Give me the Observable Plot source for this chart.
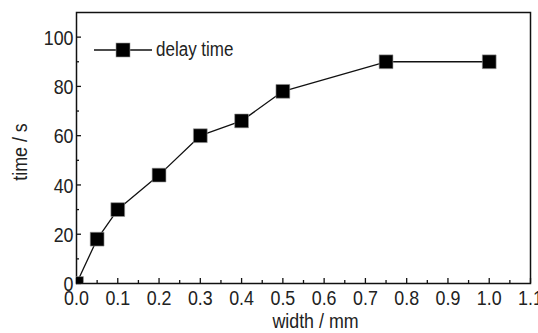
<!DOCTYPE html>
<html><head><meta charset="utf-8">
<script src="https://cdn.jsdelivr.net/npm/d3@7"></script>
<script src="https://cdn.jsdelivr.net/npm/@observablehq/plot@0.6"></script>
<style>
html,body{margin:0;padding:0;background:#fff;}
#wrap{position:relative;width:538px;height:333px;}
#legend{position:absolute;left:94px;top:38px;display:flex;align-items:center;font-family:"Liberation Sans",Arial,sans-serif;font-size:20px;color:#222;}
#legend span{display:inline-block;transform:scaleX(0.85);transform-origin:left center;white-space:nowrap;}
</style></head>
<body><div id="wrap"><div id="legend"></div></div>
<script>
const widths = [0, 0.05, 0.1, 0.2, 0.3, 0.4, 0.5, 0.75, 1.0];
const times = [0, 18, 30, 44, 60, 66, 78, 90, 90];
const xMajor = [0,0.1,0.2,0.3,0.4,0.5,0.6,0.7,0.8,0.9,1.0,1.1];
const xMinor = [0.05,0.15,0.25,0.35,0.45,0.55,0.65,0.75,0.85,0.95,1.05];
const yMajor = [0,20,40,60,80,100];
const yMinor = [10,30,50,70,90];
const seriesName = "delay time";
const xLabel = "width / mm";
const yLabel = "time / s";

const data = widths.map((w,i)=>({w, t: times[i]}));
const font = '"Liberation Sans",Arial,sans-serif';

const chart = Plot.plot({
  width: 538, height: 333,
  marginLeft: 76, marginRight: 8, marginTop: 12, marginBottom: 50,
  style: {fontFamily: font, fontSize: "22px", color: "#222", background: "#fff"},
  x: {domain: [0, 1.1]},
  y: {domain: [0, 110]},
  marks: [
    Plot.frame({stroke: "#111", strokeWidth: 1.5}),
    Plot.axisX(xMajor, {tickSize: -5, text: null, strokeWidth: 1.3, stroke: "#111", label: null}),
    Plot.axisX(xMinor, {tickSize: -3, text: null, strokeWidth: 1.3, stroke: "#111", label: null}),
    Plot.axisX(xMajor, {tickSize: 0, tickPadding: 7, tickFormat: d3.format(".1f"), fontSize: 21, fill: "#222", label: xLabel, labelAnchor: "center", labelArrow: "none", labelOffset: 44}),
    Plot.axisY(yMajor, {tickSize: -5, text: null, strokeWidth: 1.3, stroke: "#111", label: null}),
    Plot.axisY(yMinor, {tickSize: -3, text: null, strokeWidth: 1.3, stroke: "#111", label: null}),
    Plot.axisY(yMajor, {tickSize: 0, tickPadding: 3, dy: 1, fontSize: 21, fill: "#222", label: yLabel, labelAnchor: "center", labelArrow: "none", labelOffset: 64}),
    Plot.line(data, {x: "w", y: "t", stroke: "#111", strokeWidth: 1.3}),
    Plot.dot(data, {x: "w", y: "t", symbol: "square", r: 7.8, fill: "#000", stroke: "#999", strokeWidth: 0.6, clip: "frame"})
  ]
});
document.getElementById("wrap").prepend(chart);
// nudge the axis titles to where the original places them
const xl = chart.querySelector('g[aria-label="x-axis label"] text');
if (xl) xl.setAttribute("transform", "translate(12,0) " + (xl.getAttribute("transform") || ""));
const yl = chart.querySelector('g[aria-label="y-axis label"] text');
if (yl) yl.setAttribute("transform", "translate(0,4) " + (yl.getAttribute("transform") || ""));
// condense the text horizontally to mimic the narrow font of the original
chart.querySelectorAll("text").forEach(t => {
  const tr = t.getAttribute("transform") || "";
  t.setAttribute("transform", tr + " scale(0.85,1)");
});
document.getElementById("legend").innerHTML =
  `<svg width="60" height="16" style="margin-right:2px"><line x1="0" y1="8" x2="58" y2="8" stroke="#111" stroke-width="1.3"/><rect x="22" y="1" width="14" height="14" fill="#000" stroke="#999" stroke-width="0.6"/></svg><span>${seriesName}</span>`;
</script></body></html>
